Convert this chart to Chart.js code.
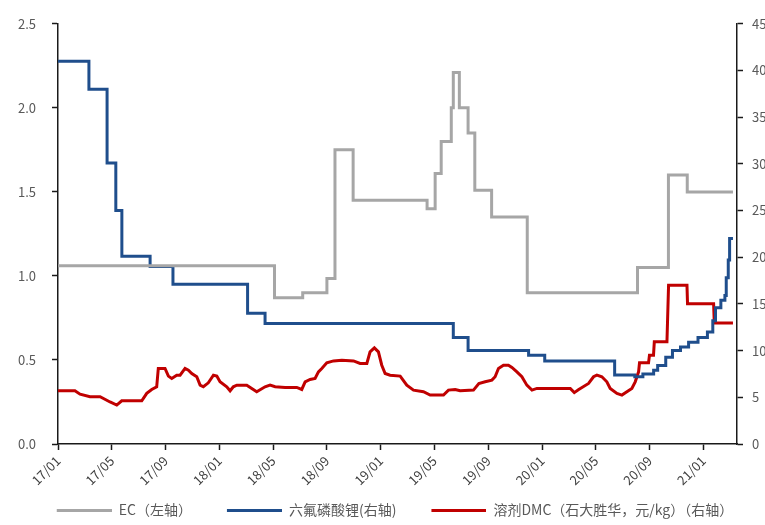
<!DOCTYPE html>
<html>
<head>
<meta charset="utf-8">
<script src="https://cdn.jsdelivr.net/npm/chart.js@4/dist/chart.umd.min.js"></script>
<style>
  body { margin: 0; background: #fff; }
  #wrap { width: 765px; height: 525px; position: relative; }
</style>
</head>
<body>
<div id="wrap"><canvas id="priceChart"></canvas></div>
<script>
// x positions are months counted from 2017/01
const xTickLabels = ["17/01", "17/05", "17/09", "18/01", "18/05", "18/09", "19/01",
  "19/05", "19/09", "20/01", "20/05", "20/09", "21/01"];

// EC (left axis) - step changes
const ecMonths = [0, 16.1, 18.2, 20.0, 20.6, 21.95, 27.45, 28.05, 28.5, 29.25, 29.4, 29.85,
  30.5, 31.0, 32.25, 34.9, 43.1, 45.4, 46.8, 50.2];
const ecValues = [1.06, 0.87, 0.90, 0.985, 1.75, 1.45, 1.40, 1.61, 1.80, 2.0, 2.21, 2.0,
  1.85, 1.51, 1.35, 0.90, 1.05, 1.60, 1.50, 1.50];

// 六氟磷酸锂 (right axis) - step changes
const lipfMonths = [0, 2.3, 3.65, 4.3, 4.75, 6.85, 8.55, 14.1, 15.4, 29.4, 30.5, 35.0, 36.2,
  41.4, 42.9, 43.5, 44.3, 44.6, 45.2, 45.7, 46.3, 46.9, 47.6, 48.3, 48.7, 48.9, 49.3, 49.6,
  49.7, 49.85, 49.95, 50.2];
const lipfValues = [41.0, 38.0, 30.1, 25.0, 20.1, 19.0, 17.1, 14.0, 12.9, 11.4, 10.0, 9.5, 8.9,
  7.4, 7.2, 7.5, 7.9, 8.4, 9.3, 10.0, 10.4, 10.9, 11.4, 12.0, 13.2, 14.6, 15.4, 15.9,
  17.8, 19.7, 22.0, 22.0];

// 溶剂DMC (right axis)
const dmcMonths = [0, 1.26, 1.64, 2.38, 3.13, 3.87, 4.37, 4.74, 6.23, 6.6,
  6.97, 7.34, 7.46, 7.96, 8.21, 8.46, 8.83, 9.08, 9.45, 9.7,
  9.95, 10.32, 10.57, 10.81, 11.18, 11.56, 11.81, 12.05, 12.55, 12.8,
  13.04, 13.3, 14.04, 14.41, 14.78, 15.4, 15.77, 16.15, 16.89, 17.76,
  18.13, 18.38, 18.75, 19.12, 19.37, 19.62, 19.99, 20.49, 21.11, 21.98,
  22.47, 22.97, 23.21, 23.53, 23.83, 24.08, 24.33, 24.7, 25.45, 25.94,
  26.44, 27.18, 27.68, 28.67, 29.04, 29.54, 29.91, 30.9, 31.3, 31.77,
  32.27, 32.51, 32.76, 33.13, 33.5, 33.76, 34.13, 34.5, 34.87, 35.25,
  35.62, 38.1, 38.4, 38.7, 39.46, 39.83, 40.08, 40.45, 40.82, 41.07,
  41.57, 41.94, 42.31, 42.68, 42.93, 43.18, 43.25, 43.92, 43.99, 44.29,
  44.35, 45.29, 45.41, 46.78, 46.82, 48.76, 48.81, 50.2];
const dmcValues = [5.7, 5.7, 5.34, 5.06, 5.06, 4.5, 4.17, 4.63, 4.63, 5.42,
  5.84, 6.13, 8.09, 8.09, 7.27, 7.02, 7.37, 7.37, 8.09, 7.91,
  7.55, 7.2, 6.3, 6.13, 6.55, 7.37, 7.27, 6.66, 6.13, 5.7,
  6.13, 6.3, 6.3, 5.95, 5.6, 6.13, 6.3, 6.13, 6.06, 6.06,
  5.84, 6.66, 6.91, 7.02, 7.73, 8.09, 8.69, 8.9, 8.98, 8.9,
  8.62, 8.62, 9.87, 10.3, 9.87, 8.44, 7.55, 7.37, 7.27, 6.3,
  5.77, 5.6, 5.24, 5.24, 5.77, 5.84, 5.7, 5.77, 6.48, 6.66,
  6.84, 7.2, 8.09, 8.44, 8.44, 8.2, 7.73, 7.2, 6.3, 5.77,
  5.95, 5.95, 5.5, 5.8, 6.48, 7.2, 7.37, 7.2, 6.66, 5.95,
  5.42, 5.24, 5.6, 5.95, 6.66, 7.73, 8.69, 8.69, 9.51, 9.51,
  10.94, 10.94, 16.99, 16.99, 15.03, 15.03, 12.97, 12.97];

const toPoints = (xs, ys) => xs.map((x, i) => ({ x: x, y: ys[i] }));

// legend marker: a short line with some empty room in front of it
function legendLine(color) {
  const c = document.createElement("canvas");
  c.width = 80;
  c.height = 3;
  const g = c.getContext("2d");
  g.fillStyle = color;
  g.fillRect(25, 0, 55, 3);
  return c;
}

Chart.defaults.font.family = "'Noto Sans CJK SC', 'Noto Sans', sans-serif";
Chart.defaults.color = "#595959";

const axisColor = "#1a1a1a";
const tickFont = { size: 13 };
const grayColor = "#A6A6A6", blueColor = "#1F4E8C", redColor = "#C00000";

new Chart(document.getElementById("priceChart"), {
  type: "line",
  data: {
    datasets: [
      {
        label: "EC（左轴）",
        data: toPoints(ecMonths, ecValues),
        yAxisID: "y",
        borderColor: grayColor,
        backgroundColor: grayColor,
        borderWidth: 3,
        pointRadius: 0,
        pointStyle: legendLine(grayColor),
        stepped: "before"
      },
      {
        label: "六氟磷酸锂(右轴)",
        data: toPoints(lipfMonths, lipfValues),
        yAxisID: "y1",
        borderColor: blueColor,
        backgroundColor: blueColor,
        borderWidth: 3,
        pointRadius: 0,
        pointStyle: legendLine(blueColor),
        stepped: "before"
      },
      {
        label: "溶剂DMC（石大胜华，元/kg）（右轴）",
        data: toPoints(dmcMonths, dmcValues),
        yAxisID: "y1",
        borderColor: redColor,
        backgroundColor: redColor,
        borderWidth: 3,
        pointRadius: 0,
        pointStyle: legendLine(redColor),
        tension: 0
      }
    ]
  },
  options: {
    responsive: true,
    maintainAspectRatio: false,
    animation: false,
    layout: { padding: { left: 0, right: 0, top: 23, bottom: -2 } },
    plugins: {
      tooltip: { enabled: false },
      legend: {
        position: "bottom",
        labels: {
          usePointStyle: true,
          pointStyleWidth: 80,
          padding: 10,
          color: "#595959",
          font: { size: 14 }
        }
      }
    },
    scales: {
      x: {
        type: "linear",
        min: 0,
        max: 50.5,
        border: { color: axisColor, width: 1.5 },
        grid: { drawOnChartArea: false, drawTicks: true, tickLength: 6, tickColor: axisColor, tickWidth: 1.5 },
        ticks: {
          autoSkip: false,
          minRotation: 45,
          maxRotation: 45,
          padding: 3,
          color: "#404040",
          font: tickFont,
          callback: (v, i) => xTickLabels[i]
        },
        afterBuildTicks: (scale) => {
          scale.ticks = xTickLabels.map((_, i) => ({ value: i * 4 }));
        },
        afterFit: (scale) => { scale.height = 49; }
      },
      y: {
        position: "left",
        min: 0,
        max: 2.5,
        border: { color: axisColor, width: 1.5 },
        grid: { drawOnChartArea: false, tickLength: 6, tickColor: axisColor, tickWidth: 1.5 },
        ticks: { stepSize: 0.5, padding: 16, font: tickFont, callback: (v) => v.toFixed(1) },
        afterFit: (scale) => { scale.width = 58; }
      },
      y1: {
        position: "right",
        min: 0,
        max: 45,
        border: { color: axisColor, width: 1.5 },
        grid: { drawOnChartArea: false, tickLength: 6, tickColor: axisColor, tickWidth: 1.5 },
        ticks: { stepSize: 5, padding: 9, font: tickFont },
        afterFit: (scale) => { scale.width = 28; }
      }
    }
  }
});
</script>
</body>
</html>
